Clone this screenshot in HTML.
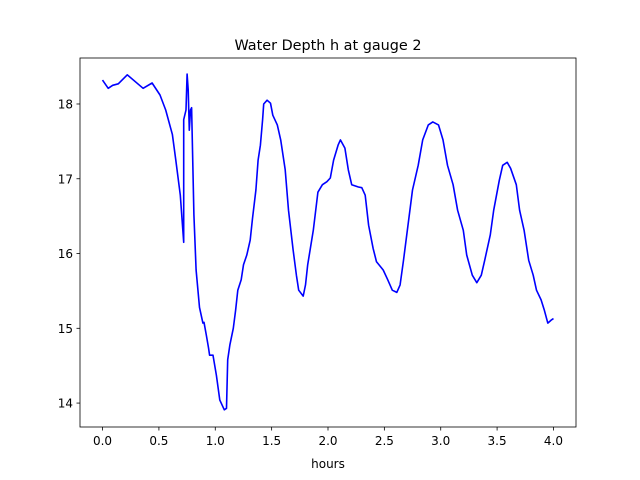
<!DOCTYPE html>
<html><head><meta charset="utf-8"><style>
body{margin:0;background:#fff;}
svg{display:block;font-family:"DejaVu Sans","Liberation Sans",sans-serif;}
</style></head><body>
<svg id="chart" width="640" height="480">
<rect width="640" height="480" fill="#fff"/>
<text x="328" y="50" text-anchor="middle" font-size="14.4">Water Depth h at gauge 2</text>
<text x="328" y="468" text-anchor="middle" font-size="12">hours</text>
<g id="ticks"></g>
<path id="line" fill="none" stroke="#0000ff" stroke-width="1.6" stroke-linejoin="round"/>
<rect x="80" y="58" width="496" height="369" fill="none" stroke="#000" stroke-width="0.8"/>
</svg>
<script>
const hours=[0.00,0.05,0.09,0.14,0.22,0.36,0.44,0.51,0.56,0.62,0.65,0.69,0.72,0.72,0.74,0.75,0.76,0.77,0.78,0.79,0.81,0.83,0.86,0.89,0.90,0.92,0.94,0.95,0.98,1.01,1.04,1.08,1.10,1.11,1.13,1.16,1.18,1.20,1.23,1.25,1.28,1.31,1.33,1.36,1.38,1.40,1.42,1.43,1.46,1.49,1.51,1.55,1.58,1.62,1.65,1.69,1.72,1.74,1.78,1.80,1.82,1.87,1.91,1.95,1.99,2.02,2.05,2.09,2.11,2.15,2.18,2.21,2.27,2.30,2.33,2.36,2.40,2.43,2.49,2.53,2.57,2.61,2.64,2.67,2.71,2.75,2.80,2.84,2.89,2.93,2.98,3.02,3.06,3.11,3.15,3.20,3.23,3.28,3.32,3.36,3.39,3.44,3.47,3.52,3.55,3.59,3.62,3.67,3.70,3.74,3.78,3.82,3.85,3.89,3.92,3.95,3.98,4.00];
const depth=[18.32,18.21,18.25,18.27,18.39,18.21,18.28,18.12,17.92,17.59,17.25,16.78,16.15,17.79,17.92,18.40,18.19,17.65,17.92,17.95,16.52,15.78,15.28,15.07,15.08,14.91,14.74,14.64,14.64,14.37,14.04,13.91,13.93,14.58,14.78,15.00,15.24,15.51,15.65,15.85,15.98,16.18,16.47,16.85,17.25,17.45,17.79,18.00,18.05,18.01,17.85,17.72,17.52,17.12,16.58,16.05,15.71,15.51,15.43,15.58,15.85,16.31,16.82,16.92,16.96,17.01,17.25,17.45,17.52,17.41,17.12,16.92,16.89,16.88,16.78,16.38,16.07,15.89,15.78,15.65,15.51,15.48,15.58,15.91,16.38,16.85,17.18,17.52,17.72,17.76,17.72,17.52,17.18,16.92,16.58,16.31,15.98,15.71,15.61,15.71,15.91,16.25,16.58,16.98,17.18,17.22,17.14,16.92,16.58,16.31,15.91,15.71,15.51,15.38,15.24,15.07,15.11,15.13];
const xTicks=[0.0,0.5,1.0,1.5,2.0,2.5,3.0,3.5,4.0];
const yTicks=[14,15,16,17,18];
const X0=80,X1=576,Y0=427,Y1=58,xmin=-0.2,xmax=4.2,ymin=13.68,ymax=18.615;
function sx(v){return X0+(v-xmin)/(xmax-xmin)*(X1-X0);}
function sy(v){return Y0-(v-ymin)/(ymax-ymin)*(Y0-Y1);}
const NS="http://www.w3.org/2000/svg";
const g=document.getElementById('ticks');
xTicks.forEach(t=>{
  const l=document.createElementNS(NS,'line');
  
  
  l.setAttribute('x1',sx(t));l.setAttribute('x2',sx(t));l.setAttribute('y1',427);l.setAttribute('y2',430.5);l.setAttribute('stroke','#000');l.setAttribute('stroke-width','0.8');
  g.appendChild(l);
  const tx=document.createElementNS(NS,'text');
  
  
  tx.setAttribute('x',sx(t));tx.setAttribute('y',445);tx.setAttribute('text-anchor','middle');tx.setAttribute('font-size','12');
  tx.textContent=t.toFixed(1);g.appendChild(tx);
});
yTicks.forEach(t=>{
  const l=document.createElementNS(NS,'line');
  
  
  l.setAttribute('x1',76.5);l.setAttribute('x2',80);l.setAttribute('y1',sy(t));l.setAttribute('y2',sy(t));l.setAttribute('stroke','#000');l.setAttribute('stroke-width','0.8');
  g.appendChild(l);
  const tx=document.createElementNS(NS,'text');
  
  
  tx.setAttribute('x',73);tx.setAttribute('y',sy(t)+4.5);tx.setAttribute('text-anchor','end');tx.setAttribute('font-size','12');
  tx.textContent=t;g.appendChild(tx);
});
document.getElementById('line').setAttribute('d',hours.map((h,i)=>(i?'L':'M')+sx(h).toFixed(1)+','+sy(depth[i]).toFixed(1)).join(''));
</script>
</body></html>
